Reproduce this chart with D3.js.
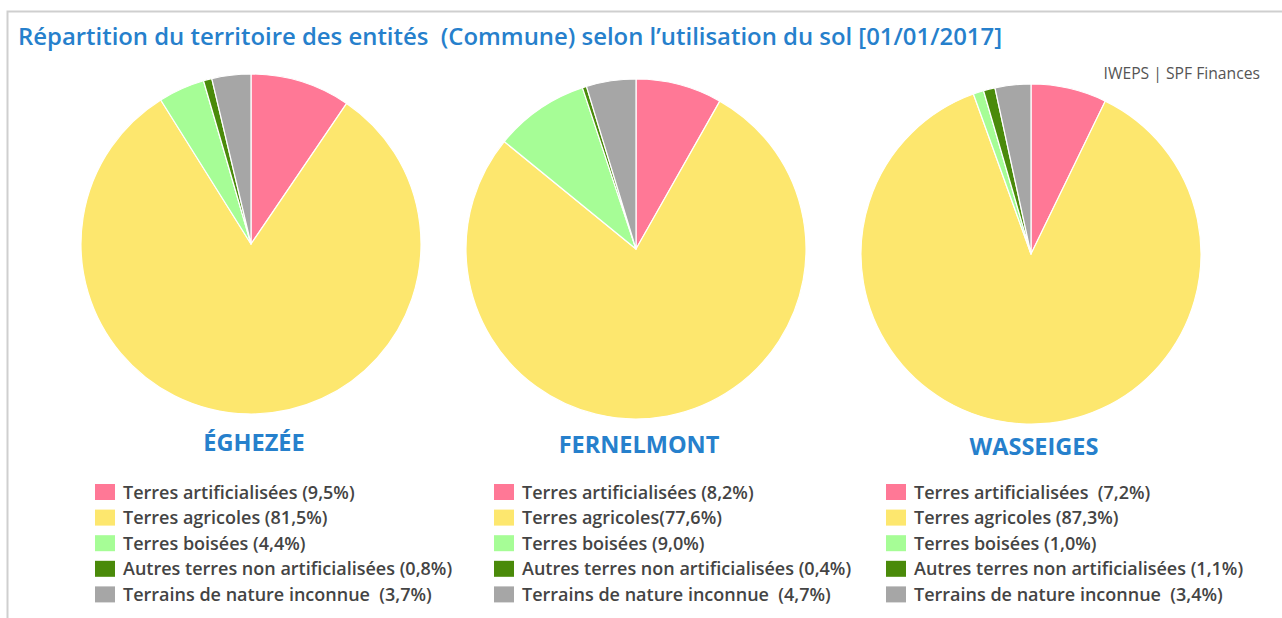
<!DOCTYPE html>
<html>
<head>
<meta charset="utf-8">
<script src="https://cdn.jsdelivr.net/npm/d3@7"></script>
<style>
  html, body { margin: 0; padding: 0; background: #fff; }
  svg { display: block; font-family: "Open Sans", Lato, sans-serif; }
</style>
</head>
<body>
<svg id="chart" width="1282" height="618"></svg>
<script>
// Land-use categories, in drawing order (clockwise from 12 o'clock)
const categories = [
  "Terres artificialisées",
  "Terres agricoles",
  "Terres boisées",
  "Autres terres non artificialisées",
  "Terrains de nature inconnue"
];
const categoryColors = ["#ff7896", "#fde76e", "#a6fd96", "#4a8a0a", "#a6a6a6"];

// Municipalities
const communes = ["ÉGHEZÉE", "FERNELMONT", "WASSEIGES"];

// Share of territory (%) per municipality, same order as categories
const valuesEghezee    = [9.5, 81.5, 4.4, 0.8, 3.7];
const valuesFernelmont = [8.2, 77.6, 9.0, 0.4, 4.7];
const valuesWasseiges  = [7.2, 87.3, 1.0, 1.1, 3.4];
const seriesValues = [valuesEghezee, valuesFernelmont, valuesWasseiges];

// Legend labels as printed under each pie
const legendEghezee = [
  "Terres artificialisées (9,5%)",
  "Terres agricoles (81,5%)",
  "Terres boisées (4,4%)",
  "Autres terres non artificialisées (0,8%)",
  "Terrains de nature inconnue  (3,7%)"
];
const legendFernelmont = [
  "Terres artificialisées (8,2%)",
  "Terres agricoles(77,6%)",
  "Terres boisées (9,0%)",
  "Autres terres non artificialisées (0,4%)",
  "Terrains de nature inconnue  (4,7%)"
];
const legendWasseiges = [
  "Terres artificialisées  (7,2%)",
  "Terres agricoles (87,3%)",
  "Terres boisées (1,0%)",
  "Autres terres non artificialisées (1,1%)",
  "Terrains de nature inconnue  (3,4%)"
];
const legendLabels = [legendEghezee, legendFernelmont, legendWasseiges];

const titleText = "Répartition du territoire des entités  (Commune) selon l’utilisation du sol [01/01/2017]";
const sourceText = "IWEPS | SPF Finances";

const svg = d3.select("#chart");
const blue = "#2680cc";

// Panel frame
svg.append("path")
  .attr("d", "M7.5,618 L7.5,11.5 L1282,11.5")
  .attr("fill", "none")
  .attr("stroke", "#cfcfcf")
  .attr("stroke-width", 2);

svg.append("text")
  .attr("x", 18).attr("y", 45)
  .attr("fill", blue)
  .attr("font-size", 23.9)
  .attr("font-weight", 600)
  .style("white-space", "pre")
  .text(titleText);

svg.append("text")
  .attr("x", 1260).attr("y", 79)
  .attr("text-anchor", "end")
  .attr("fill", "#555")
  .attr("font-size", 15.7)
  .text(sourceText);

// Layout of the three panels
const panelX = d3.scaleOrdinal().domain(communes).range([251, 636, 1031]);
const panelY = d3.scaleOrdinal().domain(communes).range([244, 249, 254]);
const legendX = [95, 494, 886];
const radius = 170;

const pie = d3.pie().sort(null).value(d => d);
const arc = d3.arc().innerRadius(0).outerRadius(radius);
const rowY = d3.scaleBand().domain(d3.range(categories.length)).range([483, 611]);

communes.forEach((name, i) => {
  const cx = panelX(name);
  const cy = panelY(name);

  const g = svg.append("g").attr("transform", `translate(${cx},${cy})`);
  g.selectAll("path")
    .data(pie(seriesValues[i]))
    .join("path")
    .attr("d", arc)
    .attr("fill", (d, k) => categoryColors[k])
    .attr("stroke", "#fff")
    .attr("stroke-width", 1.2)
    .attr("stroke-linejoin", "round");

  svg.append("text")
    .attr("x", cx + 3).attr("y", cy + 207 - (cy - 244) * 0.6)
    .attr("text-anchor", "middle")
    .attr("fill", blue)
    .attr("font-size", 23.5)
    .attr("font-weight", 700)
    .text(name);

  const lg = svg.append("g").attr("transform", `translate(${legendX[i]},0)`);
  const rows = lg.selectAll("g")
    .data(legendLabels[i])
    .join("g")
    .attr("transform", (d, k) => `translate(0,${rowY(k)})`);
  rows.append("rect")
    .attr("x", 0).attr("y", 1)
    .attr("width", 20).attr("height", 16)
    .attr("fill", (d, k) => categoryColors[k]);
  rows.append("text")
    .attr("x", 28).attr("y", 15.5)
    .attr("fill", "#444")
    .attr("font-size", 18)
    .attr("font-weight", 600)
    .style("white-space", "pre")
    .text(d => d);
});
</script>
</body>
</html>
